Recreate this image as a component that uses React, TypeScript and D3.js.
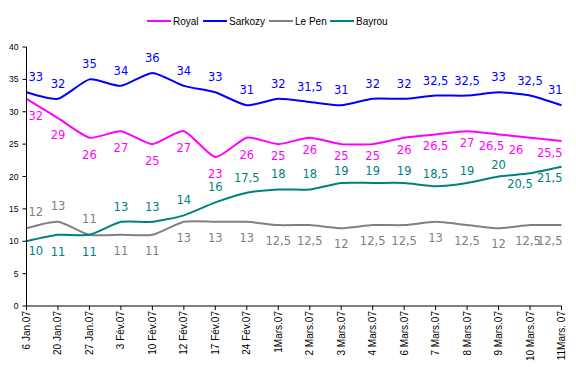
import React from "react";
import * as d3 from "d3";

const dates = ["6 Jan.07","20 Jan.07","27 Jan.07","3 Fév.07","10 Fév.07","12 Fév.07","17 Fév.07","24 Fév.07","1Mars.07","2 Mars.07","3 Mars.07","4 Mars.07","6 Mars.07","7 Mars.07","8 Mars.07","9 Mars.07","10 Mars.07","11Mars. 07"];
const royal = [32,29,26,27,25,27,23,26,25,26,25,25,26,26.5,27,26.5,26,25.5];
const sarkozy = [33,32,35,34,36,34,33,31,32,31.5,31,32,32,32.5,32.5,33,32.5,31];
const lePen = [12,13,11,11,11,13,13,13,12.5,12.5,12,12.5,12.5,13,12.5,12,12.5,12.5];
const bayrou = [10,11,11,13,13,14,16,17.5,18,18,19,19,19,18.5,19,20,20.5,21.5];
const yTicks = [0,5,10,15,20,25,30,35,40];
const seriesNames = ["Royal","Sarkozy","Le Pen","Bayrou"];

const colors: Record<string,string> = { Royal: "#FF00FF", Sarkozy: "#0000FF", "Le Pen": "#808080", Bayrou: "#008080" };

export default function App() {
  const W = 576, H = 367;
  const left = 26.5, right = 561.5, top = 47, bottom = 306;
  const x = d3.scalePoint<string>().domain(dates).range([left, right]).padding(0);
  const y = d3.scaleLinear().domain([0, 40]).range([bottom, top]);
  const line = d3.line<number>().x((_, i) => x(dates[i])!).y(d => y(d)).curve(d3.curveCardinal.tension(0.4));

  const series = [
    { name: "Royal", values: royal, off: (i: number) => (i < 8 ? 17 : 12), dx: (i: number) => (i === 15 ? -7 : i === 16 ? -14 : 0) },
    { name: "Sarkozy", values: sarkozy, off: (_i: number) => -15, dx: (_i: number) => 0 },
    { name: "Le Pen", values: lePen, off: (i: number) => (i < 3 ? -16 : 16), dx: (i: number) => (i === 16 ? -2 : 0) },
    { name: "Bayrou", values: bayrou, off: (i: number) => (i < 3 ? (i === 0 ? 10 : 17) : i < 10 ? -15 : i < 16 ? -12 : 11), dx: (i: number) => (i === 16 ? -10 : 0) },
  ];
  const fmt = (v: number) => String(v).replace(".", ",");
  const textW = (s: string) => s.split("").reduce((a, c) => a + (c === "," ? 3.7 : 7.3), 0);
  const labelX = (i: number, s: string) => {
    const cx = x(dates[i])!;
    const w = textW(s);
    return Math.max(left + w / 2 + 2, Math.min(right - w / 2 + 1, cx));
  };

  const legendX = [147, 203, 269, 330];

  return (
    <svg width={W} height={H} style={{ position: "absolute", left: 0, top: 0, background: "#fff" }} fontFamily="Arial, 'Liberation Sans', sans-serif">
      {seriesNames.map((n, i) => (
        <g key={n}>
          <line x1={legendX[i]} x2={legendX[i] + 24} y1={21} y2={21} stroke={colors[n]} strokeWidth={2} />
          <text x={legendX[i] + 26} y={24.5} fontSize={10} fill="#000">{n}</text>
        </g>
      ))}
      {series.map(s => (
        <path key={s.name} d={line(s.values)!} fill="none" stroke={colors[s.name]} strokeWidth={2} />
      ))}
      <line x1={left} x2={left} y1={top} y2={bottom} stroke="#000" />
      <line x1={left} x2={right} y1={bottom} y2={bottom} stroke="#000" />
      {yTicks.map(t => (
        <g key={t}>
          <line x1={left - 4} x2={left} y1={y(t)} y2={y(t)} stroke="#000" />
          <text x={left - 8} y={y(t) + 3} fontSize={8.5} textAnchor="end" fill="#000">{t}</text>
        </g>
      ))}
      {dates.map(d => (
        <g key={d}>
          <line x1={x(d)!} x2={x(d)!} y1={bottom} y2={bottom + 4} stroke="#000" />
          <text transform={`translate(${x(d)! + 3.5},${bottom + 5}) rotate(-90)`} fontSize={10} textAnchor="end" fill="#000">{d}</text>
        </g>
      ))}
      {series.map(s => s.values.map((v, i) => (
        <text key={s.name + i} x={labelX(i, fmt(v)) + s.dx(i)} y={y(v) + s.off(i)} dy="0.35em" textAnchor="middle" fontSize={11.5} fontFamily="'DejaVu Sans', Verdana, sans-serif" fill={colors[s.name]}>{fmt(v)}</text>
      )))}
    </svg>
  );
}
